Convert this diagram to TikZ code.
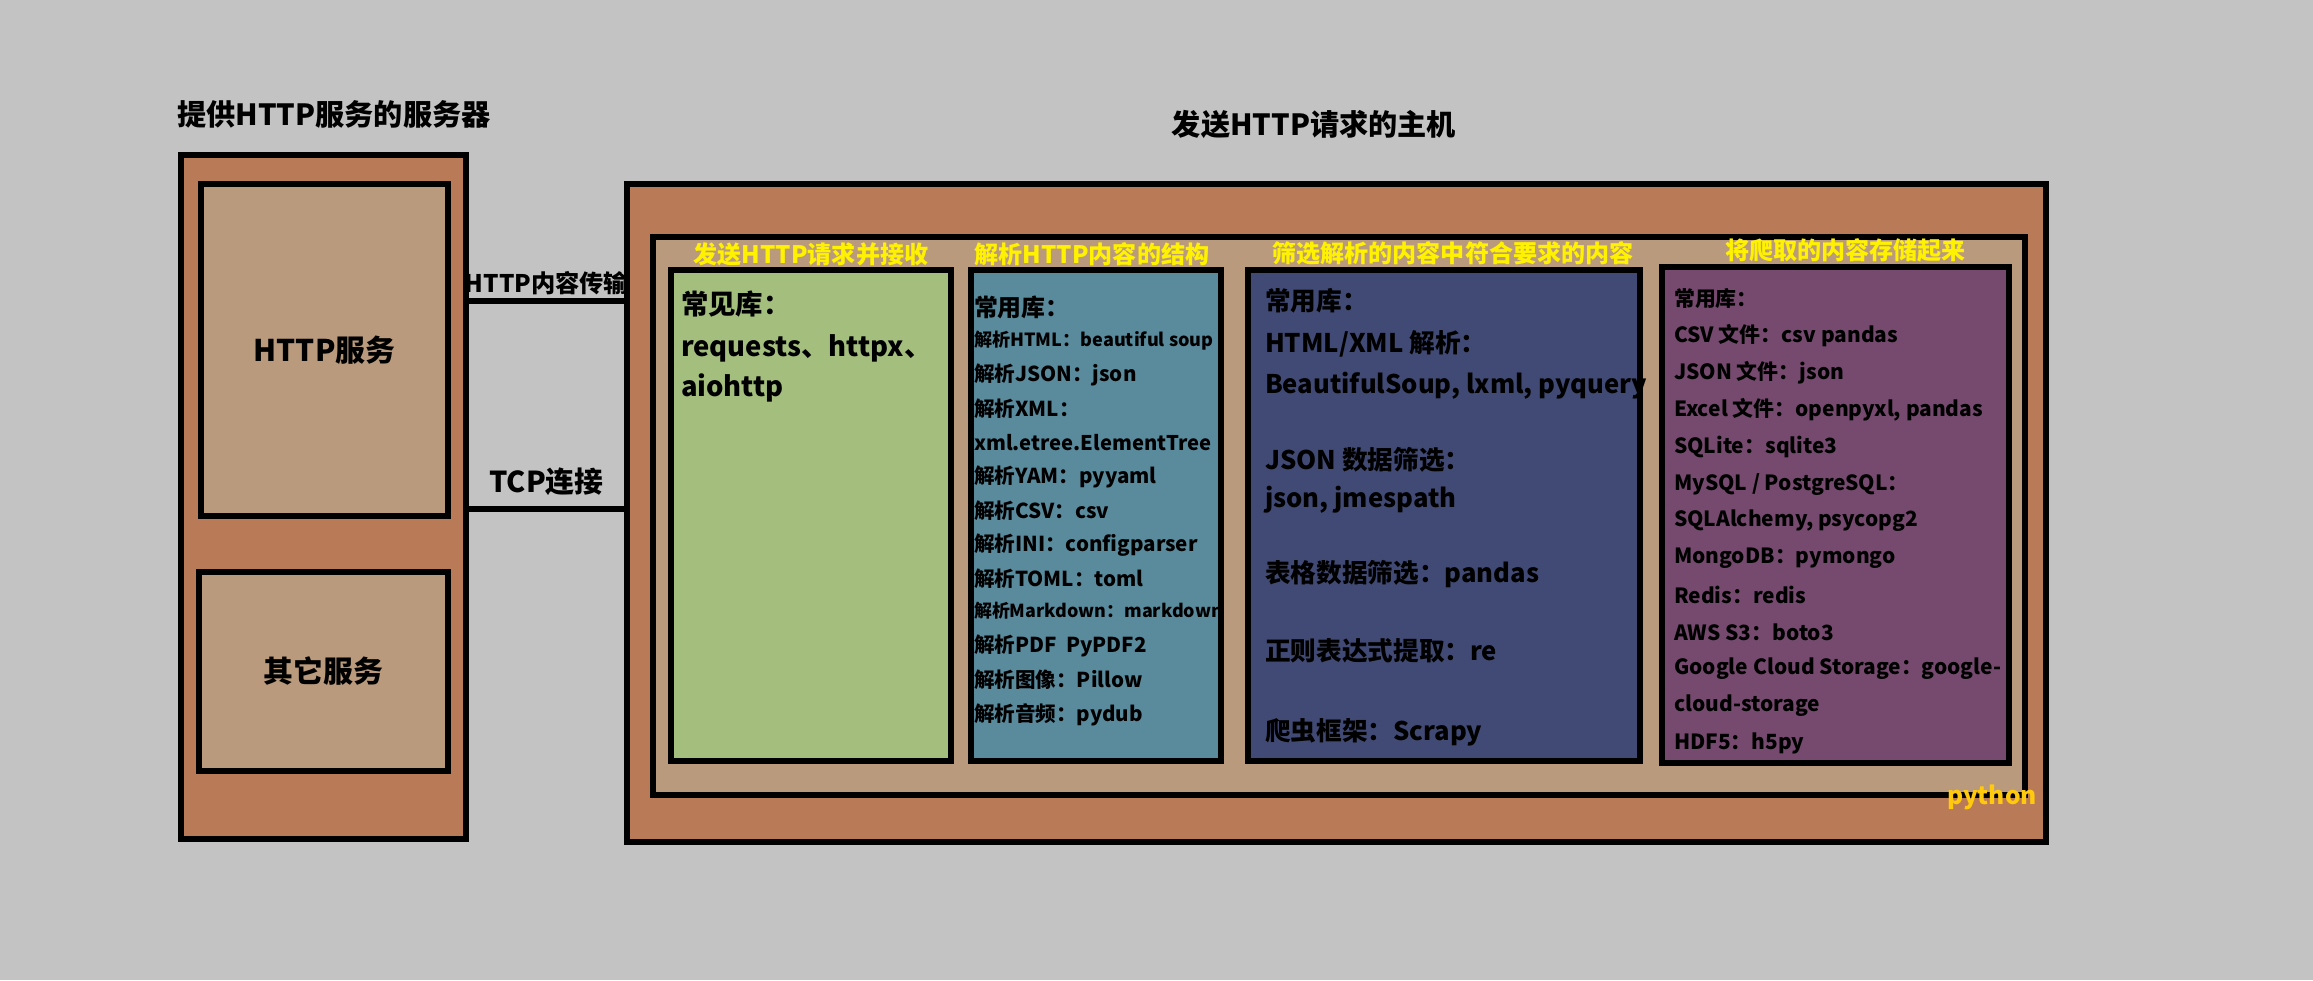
\documentclass[tikz,border=0pt]{standalone}
\usepackage{fontspec}
\setmainfont{Noto Sans CJK SC}
\usepackage{tikz}
\usetikzlibrary{positioning}
\usepackage{xcolor}
\definecolor{bgGray}{HTML}{C3C3C3}
\definecolor{boxBrown}{HTML}{B97A57}
\definecolor{boxTan}{HTML}{BA9A7C}
\definecolor{libGreen}{HTML}{A3BE7D}
\definecolor{libBlue}{HTML}{5A8B9D}
\definecolor{libNavy}{HTML}{414A74}
\definecolor{libPurple}{HTML}{754A6E}
\definecolor{headYellow}{HTML}{FFF200}
\definecolor{tagGold}{HTML}{FFC90E}
\tikzset{
  frame/.style={draw=black, fill=boxBrown, line width=1.7pt, inner sep=0pt},
  svcbox/.style={draw=black, fill=boxTan, line width=1.6pt, inner sep=0pt, font=\fontsize{8.5}{10}\selectfont\bfseries},
  libbox/.style={draw=black, line width=1.5pt, inner sep=0pt, minimum height=4.91cm},
  title/.style={inner sep=0pt, font=\fontsize{8.3}{10}\selectfont\bfseries},
  head/.style={inner sep=0pt, text=headYellow, font=\fontsize{6.85}{8}\selectfont\bfseries},
  link/.style={draw=black, line width=1.7pt},
  item/.style={anchor=west, inner sep=0pt}
}

\begin{document}
\begin{tikzpicture}[x=1cm,y=1cm]
  \fill[bgGray] (0,0) rectangle (23.13,9.80);
  \useasboundingbox (0,0) rectangle (23.13,9.80);
  % server side
  \node[title] (servertitle) at (3.34,8.66) {提供HTTP服务的服务器};
  \node[frame, minimum width=2.85cm, minimum height=6.84cm] (server) at (3.235,4.83) {};
  \node[svcbox, minimum width=2.47cm, minimum height=3.32cm] (httpsvc) at (3.245,6.30) {HTTP服务};
  \node[svcbox, minimum width=2.49cm, minimum height=1.99cm] (othersvc) at (3.235,3.085) {其它服务};
  % host side
  \node[title] (hosttitle) at (13.14,8.56) {发送HTTP请求的主机};
  \node[frame, minimum width=14.19cm, minimum height=6.58cm] (host) at (13.365,4.67) {};
  \node[draw=black, fill=boxTan, line width=1.6pt, minimum width=13.72cm, minimum height=5.58cm] (pyenv) at (13.39,4.64) {};
  \node[libbox, fill=libGreen, minimum width=2.80cm] (fetch) at (8.11,4.645) {};
  \node[libbox, fill=libBlue, minimum width=2.50cm] (parse) at (10.96,4.645) {};
  \node[libbox, fill=libNavy, minimum width=3.92cm] (filter) at (14.44,4.645) {};
  \node[libbox, fill=libPurple, minimum width=3.47cm, minimum height=4.96cm] (store) at (18.355,4.65) {};
  \node[head, above=0.01 of fetch] (fetchhead) {发送HTTP请求并接收};
  \node[head, above=0.01 of parse, xshift=-0.4mm] (parsehead) {解析HTTP内容的结构};
  \node[head, above=0.01 of filter, xshift=0.9mm] (filterhead) {筛选解析的内容中符合要求的内容};
  \node[head, above=0.01 of store, xshift=1mm] (storehead) {将爬取的内容存储起来};
  % library lists
  \foreach \txt/\y in {常见库：/6.76, {requests、httpx、}/6.32, aiohttp/5.92}{
    \node[item, xshift=1.2mm, font=\fontsize{7.8}{9}\selectfont\bfseries] at (fetch.west |- 0,\y) {\txt};
  }
  \foreach \txt/\y/\f in {常用库：/6.73/6.8, {解析HTML：beautiful soup}/6.39/5.15, 解析JSON：json/6.05/5.85,
    解析XML：/5.71/5.85, xml.etree.ElementTree/5.37/5.75, 解析YAM：pyyaml/5.03/5.85, 解析CSV：csv/4.69/5.85,
    解析INI：configparser/4.35/5.85, 解析TOML：toml/4.01/5.85, 解析Markdown：markdown/3.69/5.1,
    {解析PDF\ \ PyPDF2}/3.34/5.85, 解析图像：Pillow/3.00/5.85, 解析音频：pydub/2.65/5.85}{
    \node[item, xshift=0.5mm, font=\fontsize{\f}{\f}\selectfont\bfseries] at (parse.west |- 0,\y) {\txt};
  }
  \foreach \txt/\y in {常用库：/6.79, {HTML/XML 解析：}/6.36, {BeautifulSoup, lxml, pyquery}/5.94,
    {JSON 数据筛选：}/5.20, {json, jmespath}/4.80, 表格数据筛选：pandas/4.06,
    正则表达式提取：re/3.29, 爬虫框架：Scrapy/2.48}{
    \node[item, xshift=1.9mm, font=\fontsize{7.3}{8}\selectfont\bfseries] at (filter.west |- 0,\y) {\txt};
  }
  \foreach \txt/\y in {常用库：/6.81, {CSV 文件：csv pandas}/6.44, {JSON 文件：json}/6.07,
    {Excel 文件：openpyxl, pandas}/5.70, SQLite：sqlite3/5.33, {MySQL / PostgreSQL：}/4.96,
    {SQLAlchemy, psycopg2}/4.59, MongoDB：pymongo/4.22, Redis：redis/3.85, {AWS S3：boto3}/3.48,
    {Google Cloud Storage：google-}/3.11, cloud-storage/2.74, HDF5：h5py/2.37}{
    \node[item, xshift=1.4mm, font=\fontsize{5.95}{7}\selectfont\bfseries] at (store.west |- 0,\y) {\txt};
  }
  \node[inner sep=0pt, text=tagGold, font=\fontsize{7}{8}\selectfont\bfseries] (pytag) at (19.92,1.83) {python};
  % connections
  \draw[link] (server.east |- 0,6.79) -- (host.west |- 0,6.79)
    node[midway, above=1pt, inner sep=0pt, font=\fontsize{6.9}{8}\selectfont\bfseries] (httplink) {HTTP内容传输};
  \draw[link] (server.east |- 0,4.71) -- (host.west |- 0,4.71)
    node[midway, above=3pt, inner sep=0pt, font=\fontsize{8.2}{9}\selectfont\bfseries] (tcplink) {TCP连接};
\end{tikzpicture}
\end{document}
